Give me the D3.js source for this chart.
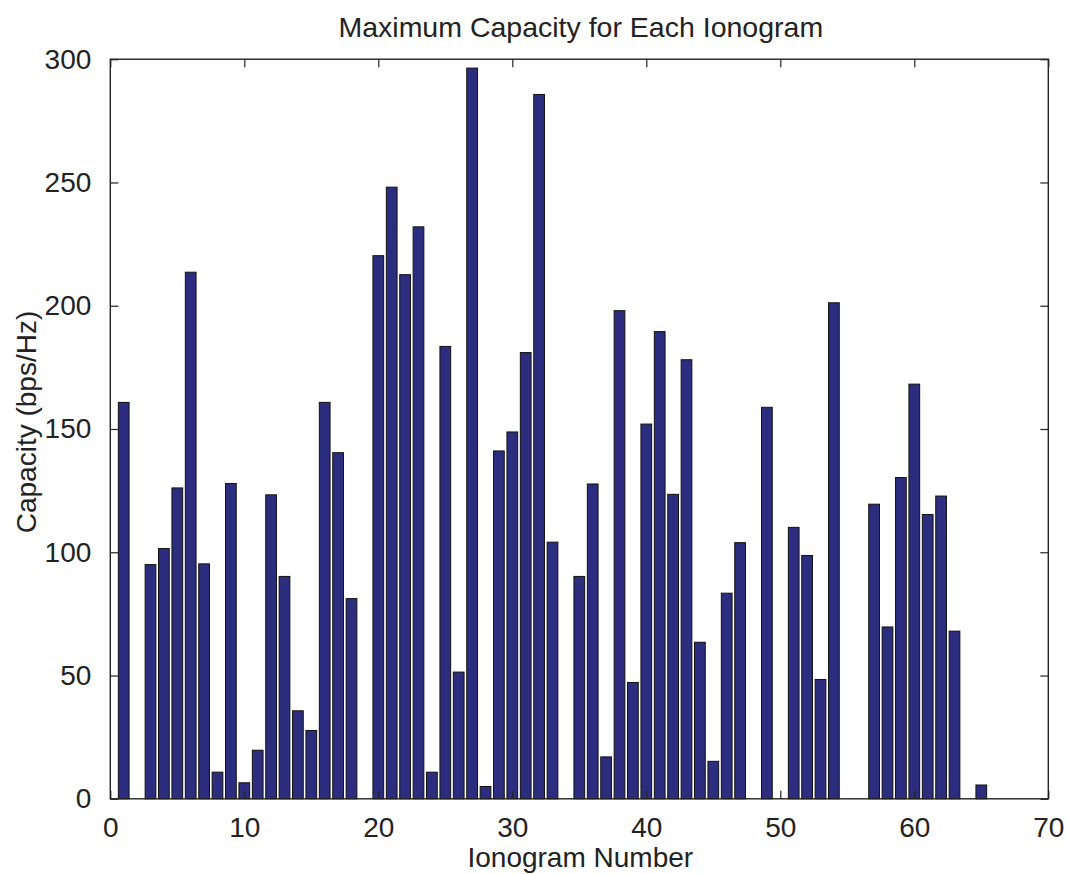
<!DOCTYPE html>
<html>
<head>
<meta charset="utf-8">
<script src="https://cdn.jsdelivr.net/npm/d3@7"></script>
<style>
  html, body { margin: 0; padding: 0; background: #ffffff; overflow: hidden; }
  svg { display: block; }
  text { font-family: "Liberation Sans", Arial, Helvetica, sans-serif; fill: #222222; }
</style>
</head>
<body>
<svg id="chart"></svg>
<script>
let outerWidth = 1068;
let outerHeight = 874;
let margins = { top: 59.2, bottom: 75.2, left: 110.3, right: 19.7 };
let innerWidth = outerWidth - margins.left - margins.right;
let innerHeight = outerHeight - margins.top - margins.bottom;

// ionogram numbers that have a bar (2, 19, 34, 48, 50, 55, 56, 64 are empty)
let ionograms = [1, 3, 4, 5, 6, 7, 8, 9, 10, 11, 12, 13, 14, 15, 16, 17, 18,
  20, 21, 22, 23, 24, 25, 26, 27, 28, 29, 30, 31, 32, 33,
  35, 36, 37, 38, 39, 40, 41, 42, 43, 44, 45, 46, 47,
  49, 51, 52, 53, 54, 57, 58, 59, 60, 61, 62, 63, 65]
let capacity = [160.8, 95.0, 101.5, 126.1, 213.6, 95.3, 10.8, 127.9, 6.5, 19.7, 123.3, 90.2, 35.7, 27.7, 160.8, 140.4, 81.2,
  220.3, 248.1, 212.6, 232.0, 10.8, 183.5, 51.4, 296.4, 5.0, 141.1, 148.8, 181.0, 285.7, 104.1,
  90.2, 127.7, 17.0, 198.0, 47.2, 152.0, 189.5, 123.5, 178.1, 63.5, 15.2, 83.4, 103.9,
  158.8, 110.1, 98.7, 48.4, 201.2, 119.5, 69.7, 130.3, 168.2, 115.3, 122.8, 68.0, 5.6]
let xTicks = [0, 10, 20, 30, 40, 50, 60, 70]
let yTicks = [0, 50, 100, 150, 200, 250, 300]

let data = ionograms.map((n, i) => ({ n: n, c: capacity[i] }))

let svg = d3.select('#chart')
  .attr('width', outerWidth)
  .attr('height', outerHeight)

let inner = svg.append('g')
  .attr('transform', 'translate(' + margins.left + ',' + margins.top + ')')

let xScale = d3.scaleLinear().domain([0, 70]).range([0, innerWidth])
let yScale = d3.scaleLinear().domain([0, 300]).range([innerHeight, 0])
let barW = xScale(0.8) - xScale(0)

inner // bars
  .selectAll('rect.bar')
  .data(data)
  .enter()
  .append('rect')
  .attr('class', 'bar')
  .attr('x', d => xScale(d.n - 0.4))
  .attr('y', d => yScale(d.c))
  .attr('width', barW)
  .attr('height', d => yScale(0) - yScale(d.c))
  .attr('fill', '#2c2d7f')
  .attr('stroke', '#111111')
  .attr('stroke-width', 1)

let tickLen = 8

function styleAxis(g) {
  g.select('.domain').remove()
  g.selectAll('.tick line').attr('stroke', '#222222').attr('stroke-width', 1.2)
  g.selectAll('.tick text').style('font-size', '28px').attr('fill', '#222222')
}

function ticksOnly(g) { // mirrored ticks on top / right, no labels
  styleAxis(g)
  g.selectAll('.tick text').remove()
}

inner // bottom axis
  .append('g')
  .attr('transform', 'translate(0,' + innerHeight + ')')
  .call(d3.axisBottom(xScale).tickValues(xTicks).tickSizeInner(-tickLen).tickSizeOuter(0).tickPadding(18))
  .call(styleAxis)
  .selectAll('.tick text').attr('dy', '0.71em')

inner // top axis
  .append('g')
  .call(d3.axisTop(xScale).tickValues(xTicks).tickSizeInner(-tickLen).tickSizeOuter(0))
  .call(ticksOnly)

inner // left axis
  .append('g')
  .call(d3.axisLeft(yScale).tickValues(yTicks).tickSizeInner(-tickLen).tickSizeOuter(0).tickPadding(19))
  .call(styleAxis)

inner // right axis
  .append('g')
  .attr('transform', 'translate(' + innerWidth + ',0)')
  .call(d3.axisRight(yScale).tickValues(yTicks).tickSizeInner(-tickLen).tickSizeOuter(0))
  .call(ticksOnly)

inner // box
  .append('rect')
  .attr('width', innerWidth)
  .attr('height', innerHeight)
  .attr('fill', 'none')
  .attr('stroke', '#222222')
  .attr('stroke-width', 1.4)

svg // title
  .append('text')
  .attr('x', margins.left + innerWidth / 2 + 1.5)
  .attr('y', 37)
  .attr('text-anchor', 'middle')
  .style('font-size', '28.5px')
  .text('Maximum Capacity for Each Ionogram')

svg // x text
  .append('text')
  .attr('x', margins.left + innerWidth / 2 + 1)
  .attr('y', 867)
  .attr('text-anchor', 'middle')
  .style('font-size', '28px')
  .text('Ionogram Number')

svg // y text
  .append('text')
  .attr('text-anchor', 'middle')
  .attr('transform', 'translate(35.5,422) rotate(-90)')
  .style('font-size', '28px')
  .text('Capacity (bps/Hz)')
</script>
</body>
</html>
